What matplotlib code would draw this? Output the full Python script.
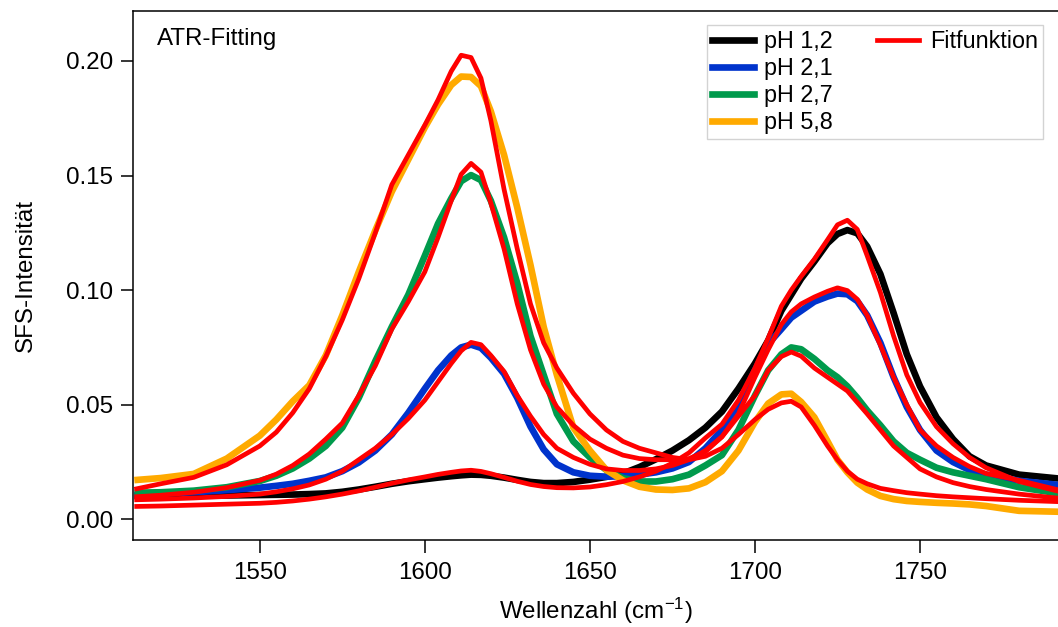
import matplotlib
matplotlib.use("Agg")
import matplotlib.pyplot as plt
from matplotlib.lines import Line2D

plt.rcParams['font.family'] = ['Liberation Sans', 'DejaVu Sans']
plt.rcParams['mathtext.default'] = 'regular'

# Wavenumber grid (cm^-1)
wavenumber = [1512, 1520, 1530, 1540, 1550, 1555, 1560, 1565, 1570, 1575,
              1580, 1585, 1590, 1595, 1600, 1604, 1608, 1611, 1614, 1617,
              1620, 1624, 1628, 1632, 1636, 1640, 1645, 1650, 1655, 1660,
              1665, 1670, 1675, 1680, 1685, 1690, 1695, 1700, 1704, 1708,
              1711, 1714, 1718, 1722, 1725, 1728, 1731, 1734, 1738, 1742,
              1746, 1750, 1755, 1760, 1765, 1770, 1780, 1792]

ph12 = [.0102, .0102, .0103, .0104, .0106, .0107, .0108, .0110, .0113, .0120,
        .0130, .0142, .0155, .0166, .0175, .0182, .0188, .0192, .0195, .0194,
        .0190, .0182, .0172, .0163, .0158, .0158, .0163, .0173, .0185, .0200,
        .0228, .0262, .0300, .0345, .0400, .0470, .0570, .0680, .0780, .0910,
        .0980, .1050, .1125, .1205, .1245, .1262, .1248, .1190, .1070, .0900,
        .0720, .0580, .0445, .0350, .0275, .0235, .0195, .0178]

ph21 = [.0106, .0112, .0118, .0127, .0138, .0146, .0155, .0168, .0183, .0210,
        .0248, .0300, .0370, .0465, .0570, .0650, .0715, .0750, .0762, .0748,
        .0705, .0635, .0530, .0405, .0305, .0240, .0205, .0190, .0186, .0188,
        .0195, .0205, .0222, .0250, .0310, .0390, .0500, .0650, .0765, .0830,
        .0880, .0910, .0950, .0972, .0985, .0982, .0952, .0890, .0770, .0620,
        .0490, .0390, .0300, .0250, .0215, .0195, .0168, .0150]

ph27 = [.0116, .0118, .0125, .0140, .0167, .0190, .0222, .0265, .0320, .0400,
        .0530, .0690, .0840, .0980, .1150, .1290, .1400, .1475, .1502, .1480,
        .1390, .1230, .1030, .0800, .0630, .0460, .0340, .0270, .0215, .0180,
        .0165, .0165, .0175, .0195, .0235, .0280, .0390, .0540, .0650, .0720,
        .0750, .0742, .0700, .0650, .0620, .0580, .0530, .0475, .0410, .0340,
        .0290, .0260, .0225, .0205, .0190, .0175, .0140, .0113]

ph58 = [.0171, .0180, .0198, .0265, .0365, .0435, .0515, .0585, .0715, .0890,
        .1080, .1260, .1430, .1570, .1710, .1810, .1895, .1932, .1930, .1890,
        .1780, .1590, .1360, .1110, .0840, .0630, .0400, .0300, .0215, .0170,
        .0142, .0130, .0128, .0135, .0162, .0210, .0300, .0425, .0505, .0545,
        .0548, .0512, .0445, .0340, .0260, .0205, .0160, .0130, .0102, .0088,
        .0080, .0076, .0072, .0069, .0065, .0058, .0037, .0033]

fit12 = [.0056, .0058, .0062, .0066, .0070, .0074, .0080, .0088, .0098, .0110,
         .0124, .0140, .0157, .0172, .0185, .0196, .0205, .0211, .0214, .0209,
         .0199, .0183, .0166, .0152, .0143, .0138, .0137, .0141, .0151, .0165,
         .0185, .0210, .0245, .0290, .0355, .0415, .0520, .0660, .0790, .0930,
         .1000, .1060, .1135, .1220, .1285, .1305, .1265, .1150, .0990, .0800,
         .0630, .0510, .0404, .0330, .0270, .0225, .0165, .0122]

fit21 = [.0085, .0088, .0093, .0100, .0110, .0120, .0133, .0150, .0175, .0210,
         .0260, .0310, .0370, .0440, .0520, .0600, .0680, .0735, .0772, .0762,
         .0715, .0645, .0540, .0450, .0370, .0310, .0270, .0240, .0220, .0213,
         .0213, .0220, .0235, .0260, .0300, .0360, .0460, .0620, .0740, .0850,
         .0905, .0940, .0970, .0995, .1010, .0998, .0960, .0890, .0760, .0620,
         .0500, .0390, .0320, .0270, .0230, .0200, .0170, .0128]

fit27 = [.0098, .0105, .0118, .0138, .0170, .0197, .0235, .0285, .0350, .0420,
         .0540, .0670, .0830, .0950, .1080, .1230, .1390, .1505, .1553, .1515,
         .1380, .1180, .0940, .0740, .0590, .0490, .0410, .0350, .0310, .0280,
         .0265, .0260, .0260, .0265, .0295, .0360, .0450, .0540, .0650, .0710,
         .0730, .0712, .0660, .0620, .0590, .0560, .0510, .0460, .0390, .0320,
         .0270, .0220, .0185, .0160, .0143, .0130, .0110, .0092]

fit58 = [.0131, .0155, .0183, .0238, .0320, .0380, .0465, .0570, .0710, .0870,
         .1050, .1250, .1460, .1590, .1720, .1830, .1955, .2025, .2015, .1925,
         .1740, .1440, .1180, .0940, .0770, .0660, .0550, .0460, .0390, .0340,
         .0310, .0290, .0270, .0260, .0275, .0310, .0370, .0435, .0480, .0508,
         .0515, .0490, .0410, .0320, .0260, .0210, .0175, .0155, .0135, .0125,
         .0116, .0110, .0103, .0098, .0094, .0090, .0083, .0077]

series_labels = ['pH 1,2', 'pH 2,1', 'pH 2,7', 'pH 5,8']
series_colors = ['#000000', '#0033CC', '#009A4C', '#FFAA00']
fit_label = 'Fitfunktion'
fit_color = '#FF0000'

xticks = [1550, 1600, 1650, 1700, 1750]
yticks = [0.00, 0.05, 0.10, 0.15, 0.20]

W, H = 1058, 627
fig = plt.figure(figsize=(W / 100, H / 100), dpi=100)
ax = fig.add_axes([133 / W, (H - 540) / H, (W - 133) / W, (540 - 11) / H])

data_lw = 4.8
fit_lw = 3.4
for ys, col in zip([ph12, ph21, ph27, ph58], series_colors):
    ax.plot(wavenumber, ys, color=col, lw=data_lw, solid_joinstyle='round', solid_capstyle='butt')
for ys in [fit12, fit21, fit27, fit58]:
    ax.plot(wavenumber, ys, color=fit_color, lw=fit_lw, solid_joinstyle='round', solid_capstyle='butt')

ax.set_xlim(1511.6, 1791.8)
ax.set_ylim(-0.00903, 0.2218)
ax.set_xticks(xticks)
ax.set_xticklabels([str(t) for t in xticks])
ax.set_yticks(yticks)
ax.set_yticklabels(['%.2f' % t for t in yticks])

for side in ['left', 'bottom', 'top']:
    ax.spines[side].set_linewidth(1.1)
    ax.spines[side].set_color('black')
ax.spines['right'].set_visible(False)

ax.tick_params(axis='both', direction='out', length=9, width=1.1, labelsize=17.4, colors='black')
ax.tick_params(axis='x', pad=7)
ax.tick_params(axis='y', pad=5.5)

ax.set_xlabel(r'Wellenzahl (cm$^{-1}$)', fontsize=17.4, labelpad=8)
ax.set_ylabel('SFS-Intensität', fontsize=17.4)
ax.yaxis.set_label_coords(-0.104, 0.5)

ax.text(0.026, 0.9357, 'ATR-Fitting', transform=ax.transAxes, fontsize=17.4,
        ha='left', va='baseline')

handles = [Line2D([], [], color=c, lw=data_lw) for c in series_colors]
handles.append(Line2D([], [], color=fit_color, lw=fit_lw))
labels = list(series_labels) + [fit_label]
for _ in range(3):
    handles.append(Line2D([], [], color='none', lw=0))
    labels.append(' ')
leg = ax.legend(handles, labels, ncol=2, loc='upper right',
                bbox_to_anchor=(0.9838, 0.9735), borderaxespad=0,
                fontsize=16.8, frameon=True, fancybox=False,
                handlelength=1.8, handletextpad=0.45, columnspacing=1.9,
                labelspacing=0.17, borderpad=0.22)
leg.get_frame().set_edgecolor('#c8c8c8')
leg.get_frame().set_linewidth(1.0)

fig.savefig('out.png', dpi=100)
